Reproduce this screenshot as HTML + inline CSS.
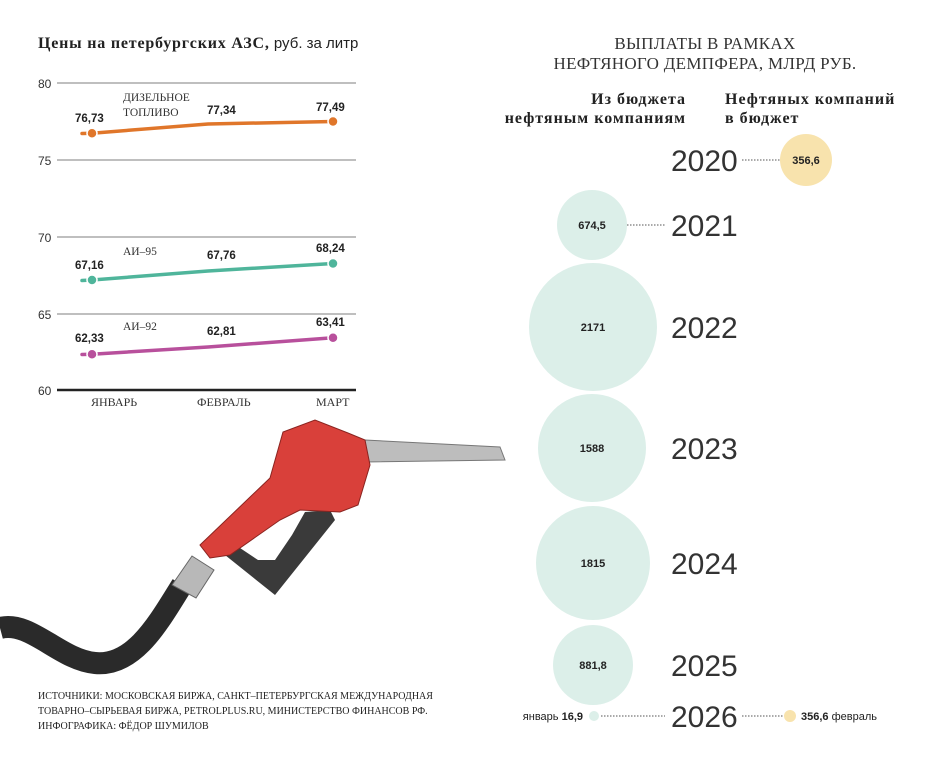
<!DOCTYPE html>
<html><head><meta charset="utf-8"><style>
body{margin:0;background:#fff;width:930px;height:771px;overflow:hidden;font-family:"Liberation Sans",sans-serif}
</style></head><body>
<svg width="930" height="771" viewBox="0 0 930 771" xmlns="http://www.w3.org/2000/svg" font-family="Liberation Sans, sans-serif">
<text x="38" y="48" font-size="16" font-weight="bold" fill="#222" font-family="Liberation Serif, serif" letter-spacing="0.8">Цены на петербургских АЗС,<tspan font-weight="normal" font-family="Liberation Sans, sans-serif" font-size="15" letter-spacing="0"> руб. за литр</tspan></text>
<g stroke="#999" stroke-width="1.3">
<line x1="57" y1="83" x2="356" y2="83"/><line x1="57" y1="160" x2="356" y2="160"/><line x1="57" y1="237" x2="356" y2="237"/><line x1="57" y1="314" x2="356" y2="314"/>
</g>
<line x1="57" y1="390" x2="356" y2="390" stroke="#222" stroke-width="2.5"/>
<g font-size="12" fill="#333"><text x="38" y="88">80</text><text x="38" y="165">75</text><text x="38" y="242">70</text><text x="38" y="319">65</text><text x="38" y="395">60</text></g>
<g font-size="12" fill="#333" font-family="Liberation Serif, serif"><text x="91" y="406">ЯНВАРЬ</text><text x="197" y="406">ФЕВРАЛЬ</text><text x="316" y="406">МАРТ</text></g>
<g font-size="11.5" fill="#333" font-family="Liberation Serif, serif"><text x="123" y="101">ДИЗЕЛЬНОЕ</text><text x="123" y="116">ТОПЛИВО</text><text x="123" y="255">АИ–95</text><text x="123" y="330">АИ–92</text></g>
<g stroke-width="3.5" fill="none" stroke-linecap="round">
<path d="M82 133.5 L92 133.2 L208 124 L333 121.5" stroke="#e0762a"/>
<path d="M82 280.5 L92 280 L208 271 L333 263.5" stroke="#4fb59b"/>
<path d="M82 354.5 L92 354.2 L208 347 L333 337.7" stroke="#b8509c"/>
</g>
<g stroke="#fff" stroke-width="1.5"><circle cx="92" cy="133.2" r="5" fill="#e0762a"/><circle cx="333" cy="121.5" r="5" fill="#e0762a"/>
<circle cx="92" cy="280" r="5" fill="#4fb59b"/><circle cx="333" cy="263.5" r="5" fill="#4fb59b"/>
<circle cx="92" cy="354.2" r="5" fill="#b8509c"/><circle cx="333" cy="337.7" r="5" fill="#b8509c"/></g>
<g font-size="11.5" font-weight="bold" fill="#222"><text x="75" y="122">76,73</text><text x="207" y="114">77,34</text><text x="316" y="111">77,49</text>
<text x="75" y="269">67,16</text><text x="207" y="259">67,76</text><text x="316" y="252">68,24</text>
<text x="75" y="342">62,33</text><text x="207" y="335">62,81</text><text x="316" y="326">63,41</text></g>
<!-- pump -->
<path d="M0 628 C30 620 60 660 95 663 C135 667 160 620 182 585" stroke="#2a2a2a" stroke-width="22" fill="none"/>
<path d="M172 585 L192 556 L214 570 L196 598 Z" fill="#b8b8b8" stroke="#666"/>
<path d="M225 555 L275 595 L335 520 L330 510 L305 512 L292 535 L275 560 L258 560 L240 548 Z" fill="#3a3a3a"/>
<path d="M365 440 L500 447 L505 460 L365 462 Z" fill="#bdbdbd" stroke="#777"/>
<path d="M200 545 L270 478 L283 432 L315 420 L348 433 L365 440 L370 465 L358 505 L340 512 L300 510 L280 520 L230 555 L210 558 Z" fill="#d9403a" stroke="#8a2420"/>
<g font-size="10" fill="#222" font-family="Liberation Serif, serif"><text x="38" y="699">ИСТОЧНИКИ: МОСКОВСКАЯ БИРЖА, САНКТ–ПЕТЕРБУРГСКАЯ МЕЖДУНАРОДНАЯ</text><text x="38" y="714">ТОВАРНО–СЫРЬЕВАЯ БИРЖА, PETROLPLUS.RU, МИНИСТЕРСТВО ФИНАНСОВ РФ.</text><text x="38" y="729">ИНФОГРАФИКА: ФЁДОР ШУМИЛОВ</text></g>
<!-- right -->
<g font-size="17" fill="#333" text-anchor="middle" font-family="Liberation Serif, serif" letter-spacing="0.3"><text x="705" y="49">ВЫПЛАТЫ В РАМКАХ</text><text x="705" y="69">НЕФТЯНОГО ДЕМПФЕРА, МЛРД РУБ.</text></g>
<g font-size="16" font-weight="bold" fill="#222" font-family="Liberation Serif, serif" letter-spacing="1"><text x="686" y="104" text-anchor="end">Из бюджета</text><text x="686" y="123" text-anchor="end">нефтяным компаниям</text><text x="725" y="104">Нефтяных компаний</text><text x="725" y="123">в бюджет</text></g>
<g fill="#dcefe9"><circle cx="592" cy="225" r="35"/><circle cx="593" cy="327" r="64"/><circle cx="592" cy="448" r="54"/><circle cx="593" cy="563" r="57"/><circle cx="593" cy="665" r="40"/><circle cx="594" cy="716" r="5"/></g>
<g fill="#f8e3ad"><circle cx="806" cy="160" r="26"/><circle cx="790" cy="716" r="6"/></g>
<g stroke="#555" stroke-width="1" stroke-dasharray="1.5 1.5"><line x1="742" y1="160" x2="780" y2="160"/><line x1="627" y1="225" x2="665" y2="225"/><line x1="601" y1="716" x2="665" y2="716"/><line x1="742" y1="716" x2="783" y2="716"/></g>
<g font-size="30" fill="#333" font-family="Liberation Sans, sans-serif"><text x="671" y="171">2020</text><text x="671" y="236">2021</text><text x="671" y="338">2022</text><text x="671" y="459">2023</text><text x="671" y="574">2024</text><text x="671" y="676">2025</text><text x="671" y="727">2026</text></g>
<g font-size="11" font-weight="bold" fill="#222" text-anchor="middle"><text x="806" y="164">356,6</text><text x="592" y="229">674,5</text><text x="593" y="331">2171</text><text x="592" y="452">1588</text><text x="593" y="567">1815</text><text x="593" y="669">881,8</text></g>
<text x="583" y="720" font-size="11" fill="#222" text-anchor="end">январь <tspan font-weight="bold">16,9</tspan></text>
<text x="801" y="720" font-size="11" fill="#222"><tspan font-weight="bold">356,6</tspan> февраль</text>
</svg>
</body></html>
